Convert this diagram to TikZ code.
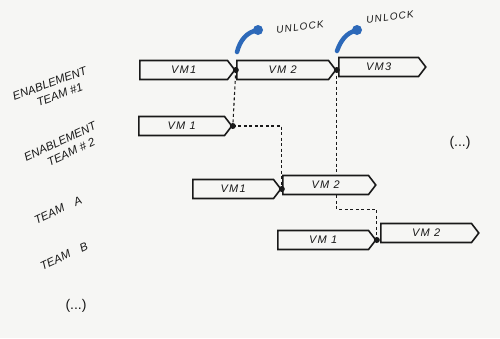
\documentclass[tikz,border=0pt]{standalone}
\usepackage{fontspec}
\setmainfont{Liberation Sans}
\newfontfamily\spaced[LetterSpace=12]{Liberation Sans}
\usetikzlibrary{shapes.symbols}
\definecolor{board}{RGB}{246,246,244}
\definecolor{ink}{RGB}{25,25,25}
\definecolor{unlockblue}{RGB}{45,105,185}
\begin{document}
\begin{tikzpicture}[x=1pt,y=-1pt,
  vmbox/.style={shape=signal, signal to=east, signal from=nowhere, signal pointer angle=105,
    draw=ink, line width=1.6pt, inner sep=0pt, minimum height=19pt, anchor=west,
    font=\spaced\itshape\fontsize{11}{12}\selectfont, text=ink},
  team/.style={font=\itshape\fontsize{11.5}{14}\selectfont, text=ink, align=center},
  dep/.style={draw=ink, line width=1.1pt, dash pattern=on 3pt off 2.5pt},
  dot/.style={circle, fill=ink, inner sep=0pt, minimum size=6pt},
  unl/.style={draw=unlockblue, line width=4.5pt, line cap=round},
  udot/.style={circle, fill=unlockblue, inner sep=0pt, minimum size=10pt},
  ulabel/.style={font=\spaced\itshape\fontsize{10}{11}\selectfont, text=ink}]
\fill[board] (0,0) rectangle (500,338);
\useasboundingbox (0,0) rectangle (500,338);
% team labels
\node[team, rotate=20] (t1) at (52,90) {ENABLEMENT\\\quad TEAM \#1};
\node[team, rotate=25] (t2) at (63,148) {ENABLEMENT\\\quad TEAM \# 2};
\node[team, rotate=25] (ta) at (58,210) {TEAM\quad A};
\node[team, rotate=25] (tb) at (64,256) {TEAM\quad B};
\node[team, font=\fontsize{14}{15}\selectfont] (e1) at (76,306) {(...)};
\node[team, font=\fontsize{14}{15}\selectfont] (e2) at (460,143) {(...)};
% VM boxes
\node[vmbox, minimum width=95pt] (r1a) at (139,70) {VM1};
\node[vmbox, minimum width=99pt] (r1b) at (236,70) {VM 2};
\node[vmbox, minimum width=87pt] (r1c) at (338,67) {VM3};
\node[vmbox, minimum width=93pt] (r2a) at (138,126) {VM 1};
\node[vmbox, minimum width=88pt] (r3a) at (192,189) {VM1};
\node[vmbox, minimum width=93pt] (r3b) at (282,185) {VM 2};
\node[vmbox, minimum width=98pt] (r4a) at (277,240) {VM 1};
\node[vmbox, minimum width=98pt] (r4b) at (380,233) {VM 2};
% dependencies
\draw[dep] (r1a.east) -- (r2a.east);
\draw[dep] (r2a.east) -| (r3a.east);
\draw[dep] (r1b.east) -- (r1b.east |- r3b.north);
\draw[dep] (r1b.east |- r3b.south) -- ++(0,14) -| (r4a.east);
\foreach \n in {r1a,r1b,r2a,r3a,r4a} \node[dot] (d\n) at (\n.east) {};
% unlock markers
\coordinate (u1s) at (237,52);
\coordinate (u2s) at (337,51);
\node[udot] (u1) at (258,30) {};
\node[udot] (u2) at (357,30) {};
\draw[unl] (u1s) to[out=75,in=190] (u1.center);
\draw[unl] (u2s) to[out=70,in=195] (u2.center);
\node[ulabel, rotate=8] (l1) at (300,27) {UNLOCK};
\node[ulabel, rotate=8] (l2) at (390,17) {UNLOCK};
\end{tikzpicture}
\end{document}
